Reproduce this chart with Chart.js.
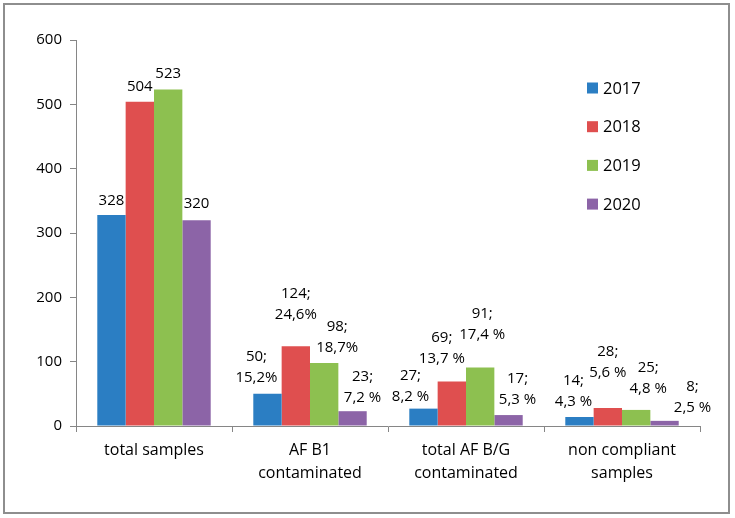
<!DOCTYPE html>
<html><head><meta charset="utf-8">
<script src="https://cdn.jsdelivr.net/npm/chart.js@4/dist/chart.umd.min.js"></script>
<style>
html,body{margin:0;padding:0;background:#fff;}
#wrap{position:relative;width:735px;height:518px;overflow:hidden;}
#frame{position:absolute;left:3px;top:3px;width:723px;height:507px;border:2px solid #8e8e8e;}
canvas{position:absolute;left:0;top:0;}
</style></head>
<body><div id="wrap"><div id="frame"></div><canvas id="c" width="735" height="518"></canvas></div>
<script>
const categories = [['total samples'], ['AF B1', 'contaminated'], ['total AF B/G', 'contaminated'], ['non compliant', 'samples']];
const seriesNames = ['2017', '2018', '2019', '2020'];
const values2017 = [328, 50, 27, 14];
const values2018 = [504, 124, 69, 28];
const values2019 = [523, 98, 91, 25];
const values2020 = [320, 23, 17, 8];
const labels2017 = ['328', '50;\n15,2%', '27;\n8,2 %', '14;\n4,3 %'];
const labels2018 = ['504', '124;\n24,6%', '69;\n13,7 %', '28;\n5,6 %'];
const labels2019 = ['523', '98;\n18,7%', '91;\n17,4 %', '25;\n4,8 %'];
const labels2020 = ['320', '23;\n7,2 %', '17;\n5,3 %', '8;\n2,5 %'];
const yTicks = [0, 100, 200, 300, 400, 500, 600];

const colors = ['#2b7ec3', '#df4f4f', '#8dc050', '#8c64a7'];
const allValues = [values2017, values2018, values2019, values2020];
const allLabels = [labels2017, labels2018, labels2019, labels2020];
// label placement relative to bar (px), per series per category
const labelDx = [[0, -11, -13, -6], [0, 0, -10, 0], [0, 13, 2, 12], [0, 10, 9, 28]];
const labelDy = [[-14, -16, -12, -15], [-15, -31, -23, -35], [-16, -15, -33, -21], [-16, -13, -15, -13]];

const FONT = '"Open Sans", "Liberation Sans", sans-serif';

const labelPlugin = {
  id: 'barLabels',
  afterDatasetsDraw(chart) {
    const ctx = chart.ctx;
    ctx.save();
    ctx.font = '15px ' + FONT;
    ctx.fillStyle = '#000';
    ctx.textAlign = 'center';
    ctx.textBaseline = 'middle';
    chart.data.datasets.forEach((ds, di) => {
      const meta = chart.getDatasetMeta(di);
      meta.data.forEach((bar, i) => {
        const lines = allLabels[di][i].split('\n');
        const x = bar.x + labelDx[di][i];
        let y = bar.y + labelDy[di][i];
        for (let k = lines.length - 1; k >= 0; k--) {
          ctx.fillText(lines[k], x, y);
          y -= 21;
        }
      });
    });
    ctx.restore();
  }
};

const legendPlugin = {
  id: 'innerLegend',
  afterDraw(chart) {
    const ctx = chart.ctx;
    const a = chart.chartArea;
    ctx.save();
    ctx.font = '16.5px ' + FONT;
    ctx.textBaseline = 'middle';
    ctx.textAlign = 'left';
    chart.data.datasets.forEach((ds, i) => {
      const cy = a.top + 48 + i * 38.7;
      const bx = a.right - 113;
      ctx.fillStyle = ds.backgroundColor;
      ctx.fillRect(bx, cy - 5.5, 11, 11);
      ctx.fillStyle = '#000';
      ctx.fillText(ds.label, bx + 16, cy + 1);
    });
    ctx.restore();
  }
};

new Chart(document.getElementById('c'), {
  type: 'bar',
  data: {
    labels: categories,
    datasets: seriesNames.map((n, i) => ({
      label: n,
      data: allValues[i],
      backgroundColor: colors[i],
      borderWidth: 0,
      categoryPercentage: 0.727,
      barPercentage: 1.0
    }))
  },
  options: {
    responsive: false,
    animation: false,
    layout: { padding: { top: 40, right: 35, bottom: 22, left: 0 } },
    plugins: { legend: { display: false }, tooltip: { enabled: false } },
    scales: {
      x: {
        offset: true,
        grid: { display: true, drawOnChartArea: false, drawTicks: true, tickLength: 6, color: '#868686', offset: true },
        border: { display: true, color: '#868686', width: 1 },
        ticks: { color: '#000', font: { family: FONT, size: 16, lineHeight: '23px' }, padding: 7, maxRotation: 0, autoSkip: false },
        afterFit(s) { s.height = 70; }
      },
      y: {
        min: 0, max: 600,
        afterBuildTicks(s) { s.ticks = yTicks.map(v => ({ value: v })); },
        grid: { display: true, drawOnChartArea: false, drawTicks: true, tickLength: 6, color: '#868686' },
        border: { display: true, color: '#868686', width: 1 },
        ticks: { color: '#000', font: { family: FONT, size: 15 }, padding: 8 },
        afterFit(s) { s.width = 76; }
      }
    }
  },
  plugins: [labelPlugin, legendPlugin]
});
</script>
</body></html>
